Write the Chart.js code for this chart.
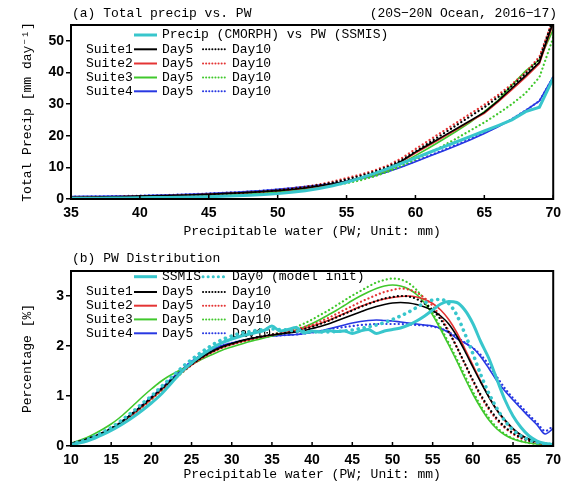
<!DOCTYPE html>
<html>
<head>
<meta charset="utf-8">
<title>Total precip vs PW</title>
<script src="https://cdn.jsdelivr.net/npm/chart.js@4.4.0/dist/chart.umd.min.js"></script>
<style>
  html, body { margin: 0; padding: 0; background: #fff; }
  #precipBox { position: absolute; left: 0; top: 0; }
  #distBox { position: absolute; left: 0; top: 245px; }
</style>
</head>
<body>
<canvas id="precipBox" width="567" height="245"></canvas>
<canvas id="distBox" width="567" height="244"></canvas>
<script>
// ---- panel (a): total precip binned by PW ----
const pwA = [35,36,37,38,39,40,41,42,43,44,45,46,47,48,49,50,51,52,53,54,55,56,57,58,59,60,61,62,63,64,65,66,67,68,69,70];
const obsA   = [0.2,0.22,0.25,0.3,0.35,0.4,0.45,0.5,0.55,0.65,0.75,0.85,1.0,1.2,1.4,1.7,2.1,2.6,3.3,4.2,5.3,6.6,8.0,9.6,11.3,13.0,14.7,16.4,18.1,19.8,21.5,23.2,25.0,27.6,29.0,38.2];
const s1d5A  = [0.5,0.55,0.6,0.7,0.8,0.9,1.0,1.1,1.2,1.35,1.5,1.7,1.9,2.1,2.35,2.65,3.0,3.5,4.1,4.8,5.6,6.6,7.9,9.6,12.0,14.8,17.3,19.8,22.3,24.8,27.4,31.0,35.0,39.0,43.2,56];
const s1d10A = [0.45,0.5,0.55,0.65,0.75,0.85,0.95,1.05,1.15,1.3,1.45,1.65,1.85,2.1,2.4,2.75,3.2,3.75,4.4,5.2,6.2,7.3,8.6,10.2,12.3,15.0,17.8,20.6,23.4,26.2,29.0,32.2,35.7,39.6,44.2,57];
const s2d5A  = [0.45,0.5,0.55,0.65,0.75,0.85,0.95,1.05,1.15,1.3,1.45,1.65,1.85,2.05,2.3,2.6,2.95,3.4,4.0,4.7,5.5,6.5,7.8,9.4,11.8,14.5,17.0,19.5,22.0,24.6,27.1,30.7,34.6,38.5,42.8,55.5];
const s2d10A = [0.45,0.5,0.55,0.65,0.75,0.85,0.95,1.05,1.15,1.3,1.45,1.65,1.85,2.1,2.4,2.8,3.3,3.9,4.6,5.5,6.6,7.7,9.0,10.6,12.9,15.8,18.6,21.4,24.2,27.0,29.8,32.9,36.3,40.0,45.0,57];
const s3d5A  = [0.4,0.45,0.5,0.55,0.6,0.7,0.8,0.9,1.0,1.1,1.2,1.35,1.5,1.7,1.95,2.25,2.6,3.1,3.7,4.4,5.3,6.3,7.5,9.0,11.2,13.7,16.2,18.8,21.5,24.3,27.6,31.2,36.0,40.5,44.0,53.5];
const s3d10A = [0.35,0.4,0.45,0.5,0.55,0.6,0.7,0.8,0.9,1.0,1.1,1.25,1.4,1.6,1.85,2.15,2.5,2.95,3.5,4.2,5.0,5.9,7.1,8.6,10.5,12.5,14.6,16.8,19.2,21.7,24.2,27.0,30.0,33.5,38.5,51];
const s4d5A  = [0.8,0.82,0.85,0.9,0.95,1.05,1.15,1.25,1.4,1.55,1.75,1.95,2.15,2.4,2.7,3.05,3.45,3.9,4.4,4.9,5.5,6.3,7.3,8.6,10.1,11.8,13.5,15.2,16.9,18.7,20.7,22.8,25.2,28.0,31.0,38.7];
const s4d10A = [0.75,0.78,0.82,0.88,0.95,1.05,1.15,1.25,1.4,1.55,1.75,1.95,2.15,2.4,2.7,3.05,3.45,3.9,4.4,5.0,5.7,6.5,7.5,8.8,10.3,12.0,13.7,15.4,17.2,19.0,21.0,23.0,25.3,28.0,31.0,38.5];
const xTicksA = [35,40,45,50,55,60,65,70];
const yTicksA = [0,10,20,30,40,50];

// ---- panel (b): PW distribution [%] ----
const pwB = [10,11,12,13,14,15,16,17,18,19,20,21,22,23,24,25,26,27,28,29,30,31,32,33,34,35,36,37,38,39,40,41,42,43,44,45,46,47,48,49,50,51,52,53,54,55,56,57,58,59,60,61,62,63,64,65,66,67,68,69,70];
const ssmisB = [0.03,0.06,0.1,0.16,0.23,0.31,0.4,0.5,0.61,0.73,0.86,1.0,1.17,1.35,1.52,1.66,1.79,1.9,2.0,2.08,2.14,2.19,2.23,2.27,2.31,2.4,2.3,2.33,2.37,2.26,2.3,2.28,2.31,2.29,2.3,2.25,2.3,2.33,2.25,2.3,2.33,2.36,2.42,2.5,2.6,2.72,2.84,2.89,2.87,2.72,2.45,2.08,1.75,1.33,0.92,0.6,0.37,0.2,0.1,0.05,0.03];
const day0B  = [0.04,0.08,0.13,0.2,0.28,0.37,0.48,0.6,0.73,0.87,1.0,1.15,1.3,1.45,1.6,1.73,1.85,1.96,2.06,2.14,2.2,2.25,2.28,2.31,2.33,2.34,2.33,2.32,2.3,2.29,2.28,2.28,2.28,2.29,2.3,2.32,2.35,2.38,2.42,2.47,2.53,2.6,2.68,2.77,2.86,2.92,2.93,2.85,2.62,2.25,1.85,1.42,1.05,0.75,0.5,0.32,0.2,0.12,0.07,0.04,0.03];
const s1d5B  = [0.05,0.09,0.14,0.2,0.27,0.35,0.45,0.57,0.7,0.83,0.97,1.11,1.25,1.39,1.52,1.64,1.75,1.85,1.93,2.0,2.05,2.1,2.14,2.17,2.2,2.22,2.24,2.26,2.28,2.31,2.35,2.39,2.44,2.5,2.56,2.62,2.68,2.74,2.79,2.83,2.86,2.87,2.86,2.83,2.78,2.71,2.6,2.44,2.2,1.9,1.58,1.27,0.98,0.72,0.52,0.35,0.22,0.14,0.08,0.05,0.03];
const s1d10B = [0.05,0.09,0.14,0.2,0.27,0.35,0.45,0.56,0.69,0.82,0.96,1.1,1.24,1.38,1.51,1.63,1.74,1.84,1.92,1.99,2.04,2.09,2.13,2.17,2.2,2.23,2.25,2.27,2.3,2.34,2.38,2.44,2.5,2.57,2.64,2.71,2.78,2.84,2.9,2.95,2.98,3.0,2.99,2.94,2.85,2.72,2.53,2.28,1.98,1.65,1.32,1.02,0.76,0.55,0.38,0.26,0.17,0.11,0.07,0.05,0.03];
const s2d5B  = [0.05,0.08,0.13,0.19,0.26,0.34,0.44,0.55,0.67,0.8,0.94,1.08,1.22,1.36,1.5,1.62,1.73,1.83,1.91,1.98,2.03,2.08,2.12,2.16,2.19,2.22,2.25,2.28,2.31,2.35,2.4,2.45,2.51,2.58,2.65,2.72,2.79,2.85,2.9,2.94,2.97,2.99,3.0,2.98,2.93,2.85,2.72,2.53,2.27,1.95,1.62,1.29,0.98,0.71,0.5,0.33,0.21,0.13,0.08,0.05,0.03];
const s2d10B = [0.05,0.08,0.13,0.19,0.26,0.34,0.44,0.55,0.67,0.8,0.94,1.08,1.22,1.36,1.5,1.62,1.73,1.83,1.91,1.98,2.03,2.08,2.12,2.16,2.2,2.23,2.26,2.3,2.34,2.38,2.42,2.49,2.56,2.64,2.72,2.8,2.88,2.95,3.02,3.08,3.12,3.15,3.13,3.07,2.96,2.8,2.58,2.3,1.98,1.64,1.3,0.99,0.73,0.52,0.36,0.24,0.15,0.1,0.06,0.04,0.03];
const s3d5B  = [0.06,0.11,0.17,0.25,0.34,0.44,0.56,0.7,0.85,1.0,1.14,1.27,1.38,1.47,1.55,1.63,1.71,1.79,1.86,1.93,1.98,2.03,2.08,2.12,2.16,2.2,2.24,2.28,2.32,2.38,2.45,2.53,2.62,2.71,2.81,2.91,3.0,3.08,3.15,3.2,3.22,3.2,3.14,3.03,2.86,2.62,2.33,2.02,1.7,1.36,1.04,0.76,0.52,0.34,0.22,0.14,0.09,0.06,0.04,0.03,0.02];
const s3d10B = [0.04,0.08,0.13,0.19,0.26,0.34,0.43,0.54,0.66,0.79,0.93,1.07,1.21,1.35,1.49,1.62,1.74,1.84,1.92,1.98,2.03,2.07,2.11,2.15,2.19,2.23,2.27,2.32,2.38,2.45,2.53,2.62,2.71,2.81,2.91,3.01,3.1,3.19,3.27,3.32,3.35,3.33,3.26,3.12,2.92,2.66,2.37,2.06,1.74,1.41,1.09,0.8,0.56,0.37,0.24,0.15,0.1,0.06,0.04,0.03,0.02];
const s4d5B  = [0.05,0.09,0.14,0.2,0.27,0.35,0.45,0.57,0.7,0.84,0.98,1.12,1.27,1.42,1.56,1.69,1.8,1.89,1.96,2.02,2.06,2.1,2.13,2.16,2.18,2.2,2.21,2.22,2.23,2.25,2.27,2.3,2.34,2.38,2.42,2.46,2.49,2.51,2.52,2.51,2.5,2.48,2.46,2.44,2.42,2.4,2.35,2.27,2.15,2.06,1.96,1.78,1.55,1.3,1.1,0.92,0.75,0.58,0.42,0.24,0.35];
const s4d10B = [0.05,0.09,0.14,0.2,0.27,0.35,0.45,0.57,0.7,0.84,0.98,1.12,1.27,1.42,1.56,1.69,1.8,1.89,1.96,2.02,2.06,2.1,2.13,2.16,2.18,2.2,2.21,2.22,2.23,2.25,2.27,2.3,2.33,2.36,2.38,2.4,2.42,2.43,2.44,2.44,2.44,2.44,2.43,2.42,2.41,2.39,2.35,2.28,2.18,2.07,1.96,1.82,1.62,1.38,1.15,0.96,0.79,0.62,0.46,0.3,0.4];
const xTicksB = [10,15,20,25,30,35,40,45,50,55,60,65,70];
const yTicksB = [0,1,2,3];

const suiteNames = ['Suite1', 'Suite2', 'Suite3', 'Suite4'];
const suiteColors = ['#000000', 'rgb(228,52,52)', 'rgb(64,200,44)', 'rgb(40,56,226)'];
const cyan = 'rgb(56,198,204)';

const monoFont = '"Liberation Mono", "Courier New", monospace';
const tickFont = { family: '"Liberation Sans", Arial, sans-serif', size: 14, weight: 'bold' };

const zip = (xs, ys) => xs.map((x, i) => ({ x: x, y: ys[i] }));

function solidSet(label, xs, ys, color, width) {
    return { label: label, data: zip(xs, ys), borderColor: color, borderWidth: width || 1.6, pointRadius: 0, fill: false };
}
function dottedSet(label, xs, ys, color, width, gap) {
    return { label: label, data: zip(xs, ys), borderColor: color, borderWidth: width || 2,
        borderDash: [0.1, gap || 3.5], borderCapStyle: 'round', pointRadius: 0, fill: false };
}

// legend rows and titles drawn straight onto the canvas
const panelDecor = {
    id: 'panelDecor',
    beforeDatasetsDraw(chart, args, opts) {
        const ctx = chart.ctx;
        ctx.save();
        ctx.font = '13px ' + monoFont;
        ctx.fillStyle = '#000';
        ctx.textBaseline = 'middle';
        opts.legend.forEach(row => {
            row.parts.forEach(p => {
                if (p.text) {
                    ctx.fillText(p.text, p.x, row.y);
                } else {
                    ctx.beginPath();
                    ctx.strokeStyle = p.color;
                    ctx.lineWidth = p.width;
                    ctx.lineCap = p.dash ? 'round' : 'butt';
                    ctx.setLineDash(p.dash || []);
                    ctx.moveTo(p.x0, row.y);
                    ctx.lineTo(p.x1, row.y);
                    ctx.stroke();
                }
            });
        });
        ctx.restore();
    },
    afterDraw(chart, args, opts) {
        const ctx = chart.ctx;
        const a = chart.chartArea;
        ctx.save();
        ctx.setLineDash([]);
        ctx.strokeStyle = '#000';
        ctx.lineWidth = 2;
        ctx.strokeRect(a.left, a.top, a.right - a.left, a.bottom - a.top);
        // little inward ticks on the x axis
        ctx.lineWidth = 1.5;
        const xs = chart.scales.x;
        xs.ticks.forEach(t => {
            const px = xs.getPixelForValue(t.value);
            ctx.beginPath();
            ctx.moveTo(px, a.bottom);
            ctx.lineTo(px, a.bottom - 4);
            ctx.stroke();
        });
        ctx.font = '13px ' + monoFont;
        ctx.fillStyle = '#000';
        ctx.textBaseline = 'middle';
        ctx.textAlign = 'left';
        ctx.fillText(opts.leftTitle, 72, 14);
        if (opts.rightTitle) {
            ctx.textAlign = 'right';
            ctx.fillText(opts.rightTitle, 557, 14);
        }
        ctx.restore();
    }
};

function suiteRows(ys) {
    return ys.map((y, i) => ({
        y: y,
        parts: [
            { text: suiteNames[i], x: 86 },
            { x0: 134, x1: 157, color: suiteColors[i], width: 2 },
            { text: 'Day5', x: 162 },
            { x0: 203, x1: 226, color: suiteColors[i], width: 2, dash: [0.1, 3] },
            { text: 'Day10', x: 232 }
        ]
    }));
}

function axes(xMin, xMax, xTicks, yMax, yTicks, xHeight, xTitlePad, yTitle) {
    return {
        x: {
            type: 'linear', min: xMin, max: xMax,
            afterBuildTicks: s => { s.ticks = xTicks.map(v => ({ value: v })); },
            afterFit: s => { s.height = xHeight; },
            grid: { display: false, drawTicks: false },
            border: { display: false },
            ticks: { padding: 6, font: tickFont, color: '#000', maxRotation: 0, autoSkip: false },
            title: { display: true, text: 'Precipitable water (PW; Unit: mm)', color: '#000',
                font: { family: monoFont, size: 13 }, padding: { top: 0, bottom: xTitlePad } }
        },
        y: {
            min: 0, max: yMax,
            afterBuildTicks: s => { s.ticks = yTicks.map(v => ({ value: v })); },
            afterFit: s => { s.width = 71; },
            grid: { display: true, drawOnChartArea: false, drawTicks: true, tickLength: 5, color: '#000', lineWidth: 1.5 },
            border: { display: false },
            ticks: { padding: 2, font: tickFont, color: '#000' },
            title: { display: true, text: yTitle, color: '#000',
                font: { family: monoFont, size: 13 }, padding: { top: 20, bottom: 0 } }
        }
    };
}

// panel (a)
const precipSets = [solidSet('Precip (CMORPH) vs PW (SSMIS)', pwA, obsA, cyan, 3)];
const aDay5 = [s1d5A, s2d5A, s3d5A, s4d5A];
const aDay10 = [s1d10A, s2d10A, s3d10A, s4d10A];
suiteNames.forEach((name, i) => {
    precipSets.push(solidSet(name + ' Day5', pwA, aDay5[i], suiteColors[i]));
    precipSets.push(dottedSet(name + ' Day10', pwA, aDay10[i], suiteColors[i], 2.2, 4));
});

new Chart(document.getElementById('precipBox'), {
    type: 'line',
    data: { datasets: precipSets },
    options: {
        responsive: false,
        animation: false,
        layout: { padding: { left: 0, right: 10, top: 25, bottom: 0 } },
        elements: { line: { tension: 0 } },
        plugins: {
            legend: { display: false },
            tooltip: { enabled: false },
            panelDecor: {
                leftTitle: '(a) Total precip vs. PW',
                rightTitle: '(20S\u221220N Ocean, 2016\u221217)',
                legend: [{ y: 35, parts: [
                    { x0: 134, x1: 157, color: cyan, width: 3 },
                    { text: 'Precip (CMORPH) vs PW (SSMIS)', x: 162 }
                ] }].concat(suiteRows([49.3, 63.5, 77.5, 91.3]))
            }
        },
        scales: axes(35, 70, xTicksA, 55, yTicksA, 46, 6, 'Total Precip [mm day\u207B\u00B9]')
    },
    plugins: [panelDecor]
});

// panel (b)
const distSets = [
    solidSet('SSMIS', pwB, ssmisB, cyan, 3),
    dottedSet('Day0 (model init)', pwB, day0B, cyan, 3.6, 6)
];
const bDay5 = [s1d5B, s2d5B, s3d5B, s4d5B];
const bDay10 = [s1d10B, s2d10B, s3d10B, s4d10B];
suiteNames.forEach((name, i) => {
    distSets.push(solidSet(name + ' Day5', pwB, bDay5[i], suiteColors[i]));
    distSets.push(dottedSet(name + ' Day10', pwB, bDay10[i], suiteColors[i], 2.2, 4));
});

new Chart(document.getElementById('distBox'), {
    type: 'line',
    data: { datasets: distSets },
    options: {
        responsive: false,
        animation: false,
        layout: { padding: { left: 0, right: 10, top: 26, bottom: 0 } },
        elements: { line: { tension: 0.4, cubicInterpolationMode: 'monotone' } },
        plugins: {
            legend: { display: false },
            tooltip: { enabled: false },
            panelDecor: {
                leftTitle: '(b) PW Distribution',
                legend: [{ y: 31.7, parts: [
                    { x0: 134, x1: 157, color: cyan, width: 3 },
                    { text: 'SSMIS', x: 162 },
                    { x0: 203, x1: 228, color: cyan, width: 3, dash: [0.1, 5] },
                    { text: 'Day0 (model init)', x: 232 }
                ] }].concat(suiteRows([47, 60.7, 74.4, 88.3]))
            }
        },
        scales: axes(10, 70, xTicksB, 3.5, yTicksB, 43, 7, 'Percentage [%]')
    },
    plugins: [panelDecor]
});
</script>
</body>
</html>
